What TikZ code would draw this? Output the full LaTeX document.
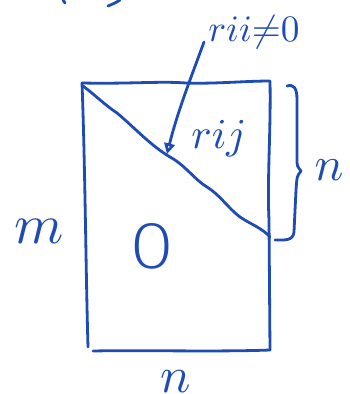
\documentclass[tikz,border=0pt]{standalone}
\usepackage{graphicx}
\usepackage{fontspec}
\newfontfamily\zerofont{Fira Sans ExtraLight}
\usetikzlibrary{arrows.meta}
\definecolor{ink}{RGB}{30,75,180}
\begin{document}
\begin{tikzpicture}[x=0.75pt,y=-0.75pt,
  pen/.style={draw=ink,line width=2.1pt,line cap=round,line join=round},
  hand/.style={text=ink,inner sep=0pt}]
\useasboundingbox (0,0) rectangle (350,394);
% corners
\coordinate (TL) at (82,83);
\coordinate (TR) at (270,81);
\coordinate (BR) at (270,350);
\coordinate (BL) at (88,347);
\coordinate (BB) at (93,351);
\coordinate (DE) at (270,237);
% top scribbles
\draw[pen] (63,0) -- (65,3);
\draw[pen] (108,6) .. controls (113,4) and (117,2) .. (120,0);
% rectangle
\draw[pen] (TL) .. controls (130,84) and (160,81) .. (186,83) .. controls (215,84) and (245,81) .. (TR)
  .. controls (271,130) and (267,180) .. (269,220) -- (BR);
\draw[pen] (TL) .. controls (85,160) and (86,280) .. (BL);
\draw[pen] (BB) .. controls (140,350) and (220,352) .. (BR);
% diagonal
\draw[pen] (83,86) .. controls (95,95) and (105,105) .. (117,113)
  .. controls (135,128) and (150,145) .. (170,157)
  .. controls (185,165) and (195,180) .. (207,187)
  .. controls (220,195) and (228,208) .. (240,217)
  .. controls (252,225) and (262,228) .. (DE);
% labels
\node[hand] (rii) at (254,32) {\scalebox{2.8}{$rii{\neq}0$}};
\node[hand] (rij) at (219,139) {\scalebox{3.2}{$rij$}};
\node[hand] (m) at (39,231) {\scalebox{4.2}{$m$}};
\node[hand] (nr) at (329,170) {\scalebox{3.6}{$n$}};
\node[hand] (nb) at (176,382) {\scalebox{3.8}{$n$}};
\node[hand] (zero) at (152,246) {\scalebox{6.2}[5]{\zerofont 0}};
% arrow
\coordinate (arrS) at (204,42);
\coordinate (arrE) at (167,154);
\draw[pen,-{Triangle[open,length=8pt,width=8pt]}] (arrS) .. controls (192,75) and (178,110) .. (arrE);
% brace
\coordinate (brT) at (287,86);
\coordinate (brB) at (275,240);
\coordinate (brM) at (301,171);
\draw[pen] (brT) .. controls (294,84) and (297,88) .. (297,100) -- (297,158) .. controls (297,166) .. (brM)
  .. controls (297,176) .. (296,190) -- (294,232) .. controls (293,241) and (285,240) .. (brB);
\end{tikzpicture}
\end{document}
